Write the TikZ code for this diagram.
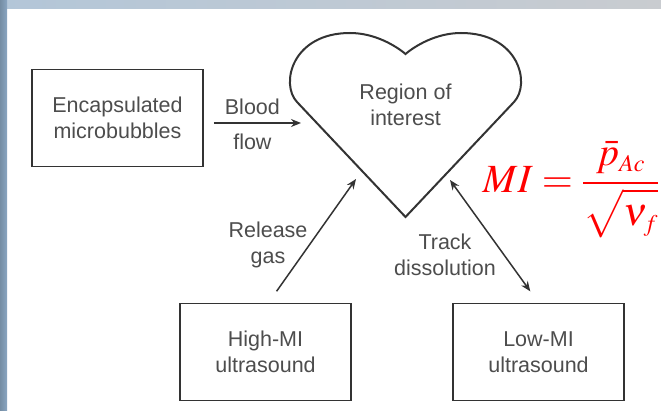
\documentclass[tikz,border=0pt]{standalone}
\usepackage{mathptmx}
\usepackage[no-math]{fontspec}
\newfontfamily\labelfont{Liberation Sans}
\usetikzlibrary{arrows.meta}
\definecolor{linegray}{HTML}{333333}
\definecolor{textgray}{HTML}{4D4D4D}
\definecolor{framebar}{HTML}{8AA6C1}
\definecolor{framelight}{HTML}{B3C6D8}
\definecolor{framegray}{HTML}{C9CCD0}
\tikzset{
  box/.style={draw=linegray, line width=1.6pt, minimum width=171pt, minimum height=97pt,
    align=center, text=textgray, font=\labelfont\fontsize{21.5}{26}\selectfont},
  lbl/.style={text=textgray, font=\labelfont\fontsize{21.5}{26}\selectfont, align=center, inner sep=0pt},
  arrow/.style={draw=linegray, line width=1.5pt, -{Stealth[length=10pt,width=8pt]}},
  formula/.style={text=red, font=\fontsize{40}{48}\selectfont, inner sep=0pt},
}
\tikzset{
  pics/heart/.style={
    code = {
      \draw [linegray, line width=2pt, line join=miter] (0, 97) -- (-108.5, -18)
        .. controls (-125.5, -36) and (-113.5, -87) .. (-55.5, -87)
        .. controls (-30.5, -87) and (-9.5, -74) .. (0, -66)
        .. controls (9.5, -74) and (30.5, -87) .. (55.5, -87)
        .. controls (113.5, -87) and (125.5, -36) .. (108.5, -18) -- cycle;
      \coordinate (-w) at (-104.5, 3);
      \coordinate (-sw) at (-49.5, 59);
      \coordinate (-se) at (44.5, 60);
      \node[lbl] (-text) at (0, -15) {\tikzpictext};
}}}

\begin{document}
\begin{tikzpicture}[x=1pt, y=-1pt]
  \useasboundingbox (0, 0) rectangle (661, 411);
  \fill[white] (0, 0) rectangle (661, 411);
  % window frame
  \shade[left color=framelight, right color=framegray] (0, 0) rectangle (661, 9);
  \shade[left color=framebar!85!black, right color=framebar] (0, 0) rectangle (7, 411);

  \node[box] (enc) at (117.5, 118) {Encapsulated\\microbubbles};
  \node[box] (high) at (265.5, 352) {High-MI\\ultrasound};
  \node[box] (low) at (538.5, 352) {Low-MI\\ultrasound};
  \pic[pic text={Region of\\interest}] (roi) at (405.5, 120) {heart};

  \draw[arrow, shorten <=10pt] (enc.east |- roi-w) -- node[lbl, above=8pt]{Blood} node[lbl, below=10pt]{flow} (roi-w);
  \draw[arrow, shorten <=14pt] ([xshift=3pt]high.north) -- (roi-sw);
  \draw[arrow, {Stealth[length=10pt,width=8pt]}-{Stealth[length=10pt,width=8pt]}, shorten >=14pt] (roi-se) -- (low.north);
  \node[lbl] (release) at (268, 245) {Release\\gas};
  \node[lbl] (track) at (445, 255) {Track\\dissolution};

  \node[formula] (mi) at (571, 190) {$\displaystyle MI=\frac{\bar{p}_{\scriptscriptstyle Ac}}{\sqrt{\nu_{\scriptscriptstyle f}\mathstrut}}$};
\end{tikzpicture}
\end{document}
